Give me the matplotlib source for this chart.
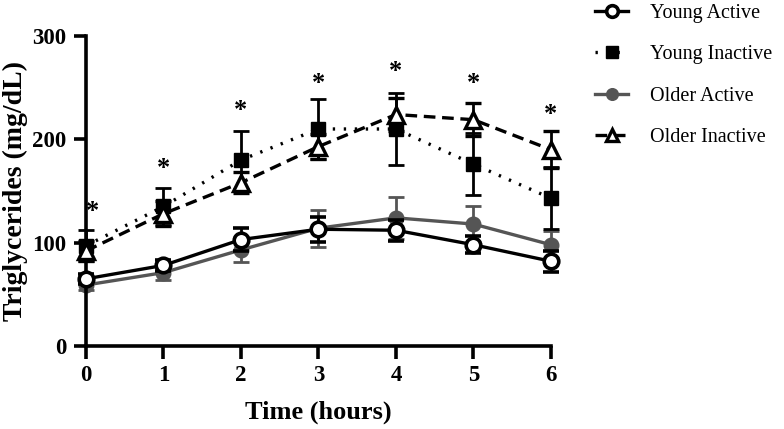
import matplotlib
matplotlib.use("Agg")
import matplotlib.pyplot as plt

plt.rcParams['font.family'] = ['Liberation Serif', 'DejaVu Serif']

# time points (hours)
hours = [0, 1, 2, 3, 4, 5, 6]

# means and SEM (mg/dL)
young_active = [65, 78, 103, 113, 112, 98, 82]
young_active_err = [5, 5, 11, 12, 10, 8, 10]
young_inactive = [97, 135, 180, 210, 210, 176, 143]
young_inactive_err = [15, 18, 28, 29, 35, 30, 30]
older_active = [59, 71, 93, 114, 124, 118, 98]
older_active_err = [5, 7, 12, 18, 20, 17, 13]
older_inactive = [92, 128, 158, 193, 224, 219, 190]
older_inactive_err = [10, 12, 10, 12, 16, 16, 18]

# significance markers
star_x = [0.08, 1, 2, 3, 4, 5, 6]
star_y = [130, 172, 228, 254, 266, 254, 224]

fig = plt.figure(figsize=(7.84, 4.29), dpi=100)
ax = fig.add_axes([0.1097, 0.1935, 0.593, 0.7226])

lw = 2.4
common = dict(capsize=6, elinewidth=2, capthick=2, markersize=10.5, linewidth=lw, clip_on=False)

ax.errorbar(hours, older_active, yerr=older_active_err, color='#555555', marker='o',
            linestyle='-', label='Older Active', zorder=2, **common)
ax.errorbar(hours, young_active, yerr=young_active_err, color='black', marker='o',
            markerfacecolor='white', markeredgewidth=2.6, linestyle='-',
            label='Young Active', zorder=3, **common)
ax.errorbar(hours, young_inactive, yerr=young_inactive_err, color='black', marker='s',
            linestyle=(0, (0.7, 2.6)), label='Young Inactive', zorder=4, **common)
ax.errorbar(hours, older_inactive, yerr=older_inactive_err, color='black', marker='^',
            markerfacecolor='white', markeredgewidth=2.4, markersize=11.5,
            linestyle=(0, (3.5, 2)), label='Older Inactive', zorder=5,
            capsize=6, elinewidth=2, capthick=2, linewidth=lw, clip_on=False)

for x, y in zip(star_x, star_y):
    ax.text(x, y, '*', ha='center', va='center', fontsize=19, fontweight='bold')

ax.set_xlim(0, 6)
ax.set_ylim(0, 300)
ax.set_xticks(hours)
ax.set_yticks([0, 100, 200, 300])
ax.spines['top'].set_visible(False)
ax.spines['right'].set_visible(False)
for s in ['left', 'bottom']:
    ax.spines[s].set_linewidth(2.6)
ax.tick_params(width=2.6, length=9, labelsize=16.5, pad=5)
for lab in ax.get_xticklabels() + ax.get_yticklabels():
    lab.set_fontweight('bold')

ax.set_xlabel('Time (hours)', fontsize=19, fontweight='bold', labelpad=10)
ax.set_ylabel('Triglycerides (mg/dL)', fontsize=20, fontweight='bold', labelpad=3)

# legend handles: data lines only (no error bars)
h, l = ax.get_legend_handles_labels()
order = [1, 2, 0, 3]
fig.legend([h[i][0] for i in order], [l[i] for i in order], loc='upper left',
           bbox_to_anchor=(595 / 784, 1 - 4 / 429), frameon=False, fontsize=14.5,
           handlelength=1.65, labelspacing=1.1, handletextpad=1.1,
           borderpad=0, borderaxespad=0, markerscale=0.8)

fig.savefig('out.png', dpi=100)
